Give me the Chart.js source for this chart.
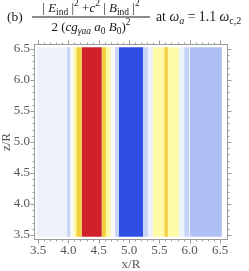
<!DOCTYPE html>
<html>
<head>
<meta charset="utf-8">
<script src="https://cdn.jsdelivr.net/npm/chart.js@4.4.0/dist/chart.umd.min.js"></script>
<style>
  html, body { margin: 0; padding: 0; background: #fff; }
  #wrap { width: 249px; height: 271px; }
</style>
</head>
<body>
<div id="wrap"><canvas id="chart" width="249" height="271"></canvas></div>
<script>
// edges of the colour bands along x/R (the field does not change along z/R)
const bandEdges = [3.48, 3.98, 4.03, 4.08, 4.13, 4.22, 4.55, 4.62, 4.70, 4.77, 4.83,
                   5.23, 5.31, 5.39, 5.58, 5.64, 5.82, 5.91, 5.99, 6.00, 6.53];
// contour level of each band: -4 deep blue ... 0 white ... 3 red
const bandLevels = [-1, -2, 0, 1, 2, 3, 2, 1, 0, -2, -4, -2, -1, 1, 2, 1, -1, -2, 0, -3];
// z/R extent of the density plot
const zRange = [3.47, 6.53];
const xTicks = [3.5, 4.0, 4.5, 5.0, 5.5, 6.0, 6.5];
const yTicks = [3.5, 4.0, 4.5, 5.0, 5.5, 6.0, 6.5];

const palette = {
  '-4': '#2f4fe3', '-3': '#afc0f4', '-2': '#c6d3f5', '-1': '#edf1fa',
  '0': '#f8f9fc', '1': '#fdfaa8', '2': '#f3d040', '3': '#d0202a'
};

const X_MIN = 3.45, X_MAX = 6.615, Y_MIN = 3.435, Y_MAX = 6.565;
const SERIF = '"Liberation Serif", serif';
const tickFont = { family: SERIF, size: 13 };
const axisTitleFont = { family: SERIF, size: 13, lineHeight: 1 };
const labelColor = '#555';
const frameColor = '#9a9a9a';

const datasets = bandLevels.map((lvl, i) => ({
  data: [[bandEdges[i], bandEdges[i + 1]]],
  backgroundColor: palette[lvl],
  borderWidth: 0,
  grouped: false,
  categoryPercentage: 1,
  barPercentage: (zRange[1] - zRange[0]) / (Y_MAX - Y_MIN),
  yAxisID: 'y'
}));

// frame with major and minor ticks on all four sides
const framePlugin = {
  id: 'frame',
  afterDraw(chart) {
    const { ctx, chartArea: a, scales } = chart;
    ctx.save();
    ctx.strokeStyle = frameColor;
    ctx.lineWidth = 1;
    ctx.strokeRect(a.left - 0.5, a.top - 0.5, a.right - a.left + 1, a.bottom - a.top + 1);
    ctx.beginPath();
    for (let k = 35; k <= 65; k++) {
      const v = k / 10;
      const len = k % 5 === 0 ? 4 : 2;
      const px = Math.round(scales.x.getPixelForValue(v)) + 0.5;
      ctx.moveTo(px, a.bottom + 0.5); ctx.lineTo(px, a.bottom + 0.5 + len);
      ctx.moveTo(px, a.top - 0.5); ctx.lineTo(px, a.top - 0.5 - len);
      const py = Math.round(scales.yv.getPixelForValue(v)) + 0.5;
      ctx.moveTo(a.left - 0.5, py); ctx.lineTo(a.left - 0.5 - len, py);
      ctx.moveTo(a.right + 0.5, py); ctx.lineTo(a.right + 0.5 + len, py);
    }
    ctx.stroke();
    ctx.restore();
  }
};

// the formula in the title
function runFont(r, base) {
  const size = r.s ? base * 0.73 : base;
  return (r.i ? 'italic ' : '') + size + 'px ' + SERIF;
}
function runsWidth(ctx, runs, base) {
  let w = 0;
  for (const r of runs) { ctx.font = runFont(r, base); w += ctx.measureText(r.t).width; }
  return w;
}
function drawRuns(ctx, runs, x, y, base) {
  for (const r of runs) {
    ctx.font = runFont(r, base);
    const dy = r.s === 'sub' ? 3 : r.s === 'sup' ? -6 : 0;
    ctx.fillText(r.t, x, y + dy);
    x += ctx.measureText(r.t).width;
  }
  return x;
}
const numRuns = [
  { t: '| ' }, { t: 'E', i: 1 }, { t: 'ind', s: 'sub' }, { t: ' |' }, { t: '2', s: 'sup' },
  { t: ' +' }, { t: 'c', i: 1 }, { t: '2', s: 'sup' }, { t: ' | ' }, { t: 'B', i: 1 },
  { t: 'ind', s: 'sub' }, { t: ' |' }, { t: '2', s: 'sup' }
];
const denRuns = [
  { t: '2 (' }, { t: 'cg', i: 1 }, { t: 'γaa', i: 1, s: 'sub' }, { t: ' a', i: 1 },
  { t: '0', s: 'sub' }, { t: ' B', i: 1 }, { t: '0', s: 'sub' }, { t: ')' }, { t: '2', s: 'sup' }
];
const tailRuns = [
  { t: 'at ' }, { t: 'ω', i: 1 }, { t: 'a', i: 1, s: 'sub' }, { t: ' = 1.1 ' },
  { t: 'ω', i: 1 }, { t: 'c,2', s: 'sub' }
];
const titlePlugin = {
  id: 'formula',
  afterDraw(chart) {
    const ctx = chart.ctx;
    ctx.save();
    ctx.fillStyle = '#1a1a1a';
    ctx.textBaseline = 'alphabetic';
    drawRuns(ctx, [{ t: '(b)' }], 7, 21, 13.5);
    const barL = 32, barR = 150, mid = (barL + barR) / 2;
    drawRuns(ctx, numRuns, mid - runsWidth(ctx, numRuns, 13) / 2, 12, 13);
    ctx.fillRect(barL, 16.5, barR - barL, 1);
    drawRuns(ctx, denRuns, mid - runsWidth(ctx, denRuns, 13) / 2, 31, 13);
    drawRuns(ctx, tailRuns, 156, 21, 13.8);
    ctx.restore();
  }
};

new Chart(document.getElementById('chart'), {
  type: 'bar',
  data: { labels: ['field'], datasets: datasets },
  options: {
    indexAxis: 'y',
    responsive: false,
    animation: false,
    layout: { padding: { top: 45, right: 22, left: 0, bottom: 0 } },
    plugins: { legend: { display: false }, tooltip: { enabled: false }, title: { display: false } },
    scales: {
      x: {
        type: 'linear', min: X_MIN, max: X_MAX, offset: false,
        afterBuildTicks: s => { s.ticks = xTicks.map(v => ({ value: v })); },
        afterFit: s => { s.height = 32; },
        grid: { display: false, drawTicks: false },
        border: { display: false },
        ticks: { font: tickFont, color: labelColor, padding: 4, maxRotation: 0, callback: v => v.toFixed(1) },
        title: { display: true, text: 'x/R', font: axisTitleFont, color: labelColor, padding: { top: 0, bottom: 0 } }
      },
      y: { type: 'category', display: false },
      yv: {
        type: 'linear', position: 'left', min: Y_MIN, max: Y_MAX, offset: false,
        afterBuildTicks: s => { s.ticks = yTicks.map(v => ({ value: v })); },
        afterFit: s => { s.width = 35; },
        grid: { display: false, drawTicks: false, offset: false },
        border: { display: false },
        ticks: { font: tickFont, color: labelColor, padding: 5, callback: v => v.toFixed(1) },
        title: { display: true, text: 'z/R', font: axisTitleFont, color: labelColor, padding: { top: 0, bottom: 0 } }
      }
    }
  },
  plugins: [framePlugin, titlePlugin]
});
</script>
</body>
</html>
